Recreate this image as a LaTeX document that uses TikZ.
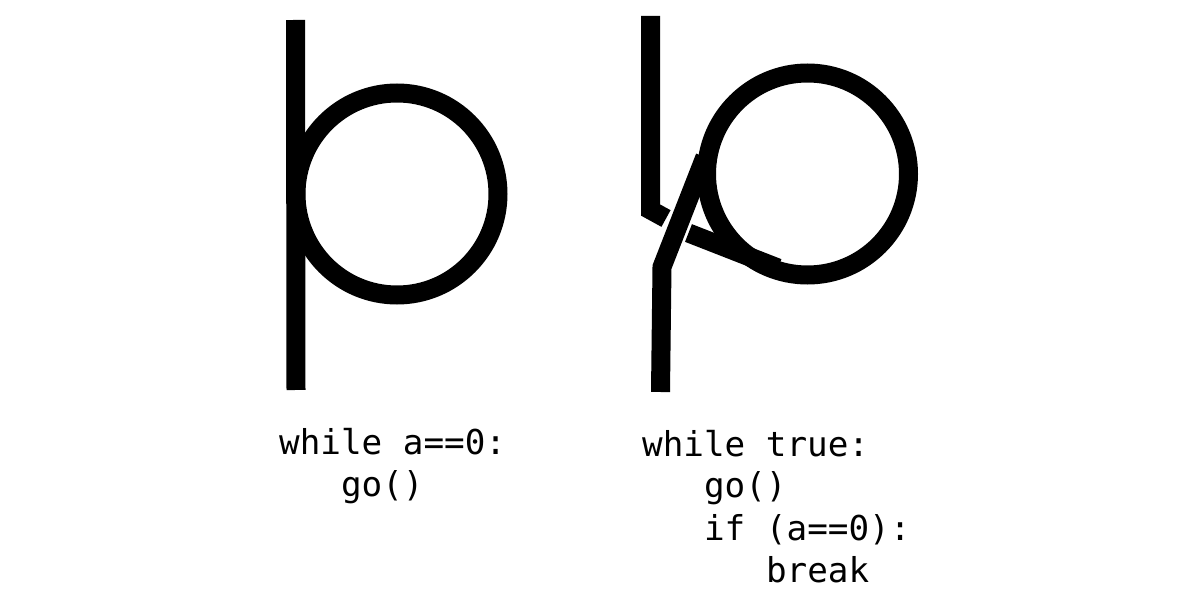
\documentclass[tikz,border=0pt]{standalone}
\usepackage{fontspec}
\setmonofont{DejaVu Sans Mono}
\usetikzlibrary{calc}
\tikzset{
	strand/.style={line width=1.9mm},
	code/.style={anchor=base west, inner sep=0pt, font=\ttfamily\fontsize{9.75}{12}\selectfont}
}
\def\tab{0.619}

\begin{document}
\begin{tikzpicture}
		%%%%% START %%%%%
		\useasboundingbox (0, 0) rectangle (12, 6);
		
		% while a==0
		\draw[strand] (2.955, 5.80) -- (2.96, 2.10);
		\draw[strand] (3.97, 4.06) circle (1.01);
		
		\node[code] (whileA) at (2.785, 1.455) {while a==0:};
		\node[code] (goA) at ({2.785+\tab}, 1.035) {go()};
		
		% while true ... break
		\draw[strand] (6.505, 5.84) -- (6.505, 3.90) -- (6.66, 3.815);
		\draw[strand] (6.605, 2.08) -- (6.62, 3.33) -- (7.05, 4.43);
		\draw[strand] (8.075, 4.26) circle (1.01);
		\draw[strand] (6.885, 3.67) -- (7.78, 3.32);
		
		\node[code] (whileB) at (6.415, 1.435) {while true:};
		\node[code] (goB) at ({6.415+\tab}, 1.02) {go()};
		\node[code] (ifB) at ({6.415+\tab}, 0.60) {if (a==0):};
		\node[code] (breakB) at ({6.415+2*\tab}, 0.18) {break};
		
		%%%%% END %%%%%
	\end{tikzpicture}
\end{document}
